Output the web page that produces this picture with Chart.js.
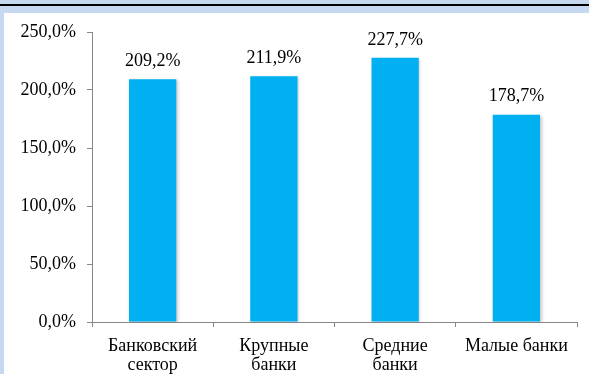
<!DOCTYPE html>
<html>
<head>
<meta charset="utf-8">
<script src="https://cdn.jsdelivr.net/npm/chart.js@4/dist/chart.umd.min.js"></script>
<style>
  html, body { margin: 0; padding: 0; background: #c6d9f1; }
  #wrap { position: relative; width: 589px; height: 374px; }
</style>
</head>
<body>
<div id="wrap"><canvas id="chart" width="589" height="374"></canvas></div>
<script>
// chart data
var categories = [["Банковский", "сектор"], ["Крупные", "банки"], ["Средние", "банки"], "Малые банки"];
var values = [209.2, 211.9, 227.7, 178.7];
var yTicks = [0, 50, 100, 150, 200, 250];

function pct(v) {
  return v.toFixed(1).replace(".", ",") + "%";
}

var FONT = "\"Liberation Serif\", \"Times New Roman\", serif";

// light blue frame, black top rule, white panel
var framePlugin = {
  id: "frame",
  beforeDraw: function(chart) {
    var ctx = chart.ctx;
    ctx.save();
    ctx.fillStyle = "#c6d9f1";
    ctx.fillRect(0, 0, chart.width, chart.height);
    ctx.fillStyle = "#000000";
    ctx.fillRect(0, 4, chart.width, 2);
    ctx.fillStyle = "#ffffff";
    ctx.fillRect(4, 13, chart.width - 4, chart.height - 13);
    ctx.restore();
  }
};

// soft shadow behind bars
var shadowPlugin = {
  id: "barShadow",
  beforeDatasetsDraw: function(chart) {
    var ctx = chart.ctx;
    ctx.save();
    ctx.shadowColor = "rgba(0,0,0,0.22)";
    ctx.shadowBlur = 3;
    ctx.shadowOffsetX = 1.5;
    ctx.shadowOffsetY = 1;
  },
  afterDatasetsDraw: function(chart) {
    chart.ctx.restore();
  }
};

// value labels above bars
var labelPlugin = {
  id: "valueLabels",
  afterDatasetsDraw: function(chart) {
    var ctx = chart.ctx;
    var meta = chart.getDatasetMeta(0);
    ctx.save();
    ctx.font = "18px " + FONT;
    ctx.fillStyle = "#000000";
    ctx.textAlign = "center";
    ctx.textBaseline = "bottom";
    meta.data.forEach(function(bar, i) {
      ctx.fillText(pct(values[i]), bar.x, bar.y - 9);
    });
    ctx.restore();
  }
};

new Chart(document.getElementById("chart"), {
  type: "bar",
  data: {
    labels: categories,
    datasets: [{
      data: values,
      backgroundColor: "#00b0f0",
      borderWidth: 0,
      categoryPercentage: 1,
      barPercentage: 0.39
    }]
  },
  options: {
    responsive: false,
    animation: false,
    layout: { padding: { left: 4, top: 32, right: 12, bottom: 0 } },
    plugins: {
      legend: { display: false },
      tooltip: { enabled: false }
    },
    scales: {
      x: {
        grid: {
          offset: true,
          drawOnChartArea: false,
          drawTicks: true,
          tickLength: 5,
          color: "#868686"
        },
        border: { color: "#868686", width: 1 },
        ticks: {
          color: "#000000",
          font: { family: FONT, size: 18, lineHeight: 1.05 },
          maxRotation: 0,
          autoSkip: false,
          padding: 10
        },
        afterFit: function(scale) { scale.height = 52; }
      },
      y: {
        min: 0,
        max: 250,
        afterBuildTicks: function(scale) {
          scale.ticks = yTicks.map(function(v) { return { value: v }; });
        },
        grid: {
          drawOnChartArea: false,
          drawTicks: true,
          tickLength: 5,
          color: "#868686"
        },
        border: { color: "#868686", width: 1 },
        ticks: {
          color: "#000000",
          font: { family: FONT, size: 18 },
          padding: 11,
          callback: function(v) { return pct(v); }
        },
        afterFit: function(scale) { scale.width = 88; }
      }
    }
  },
  plugins: [framePlugin, shadowPlugin, labelPlugin]
});
</script>
</body>
</html>
